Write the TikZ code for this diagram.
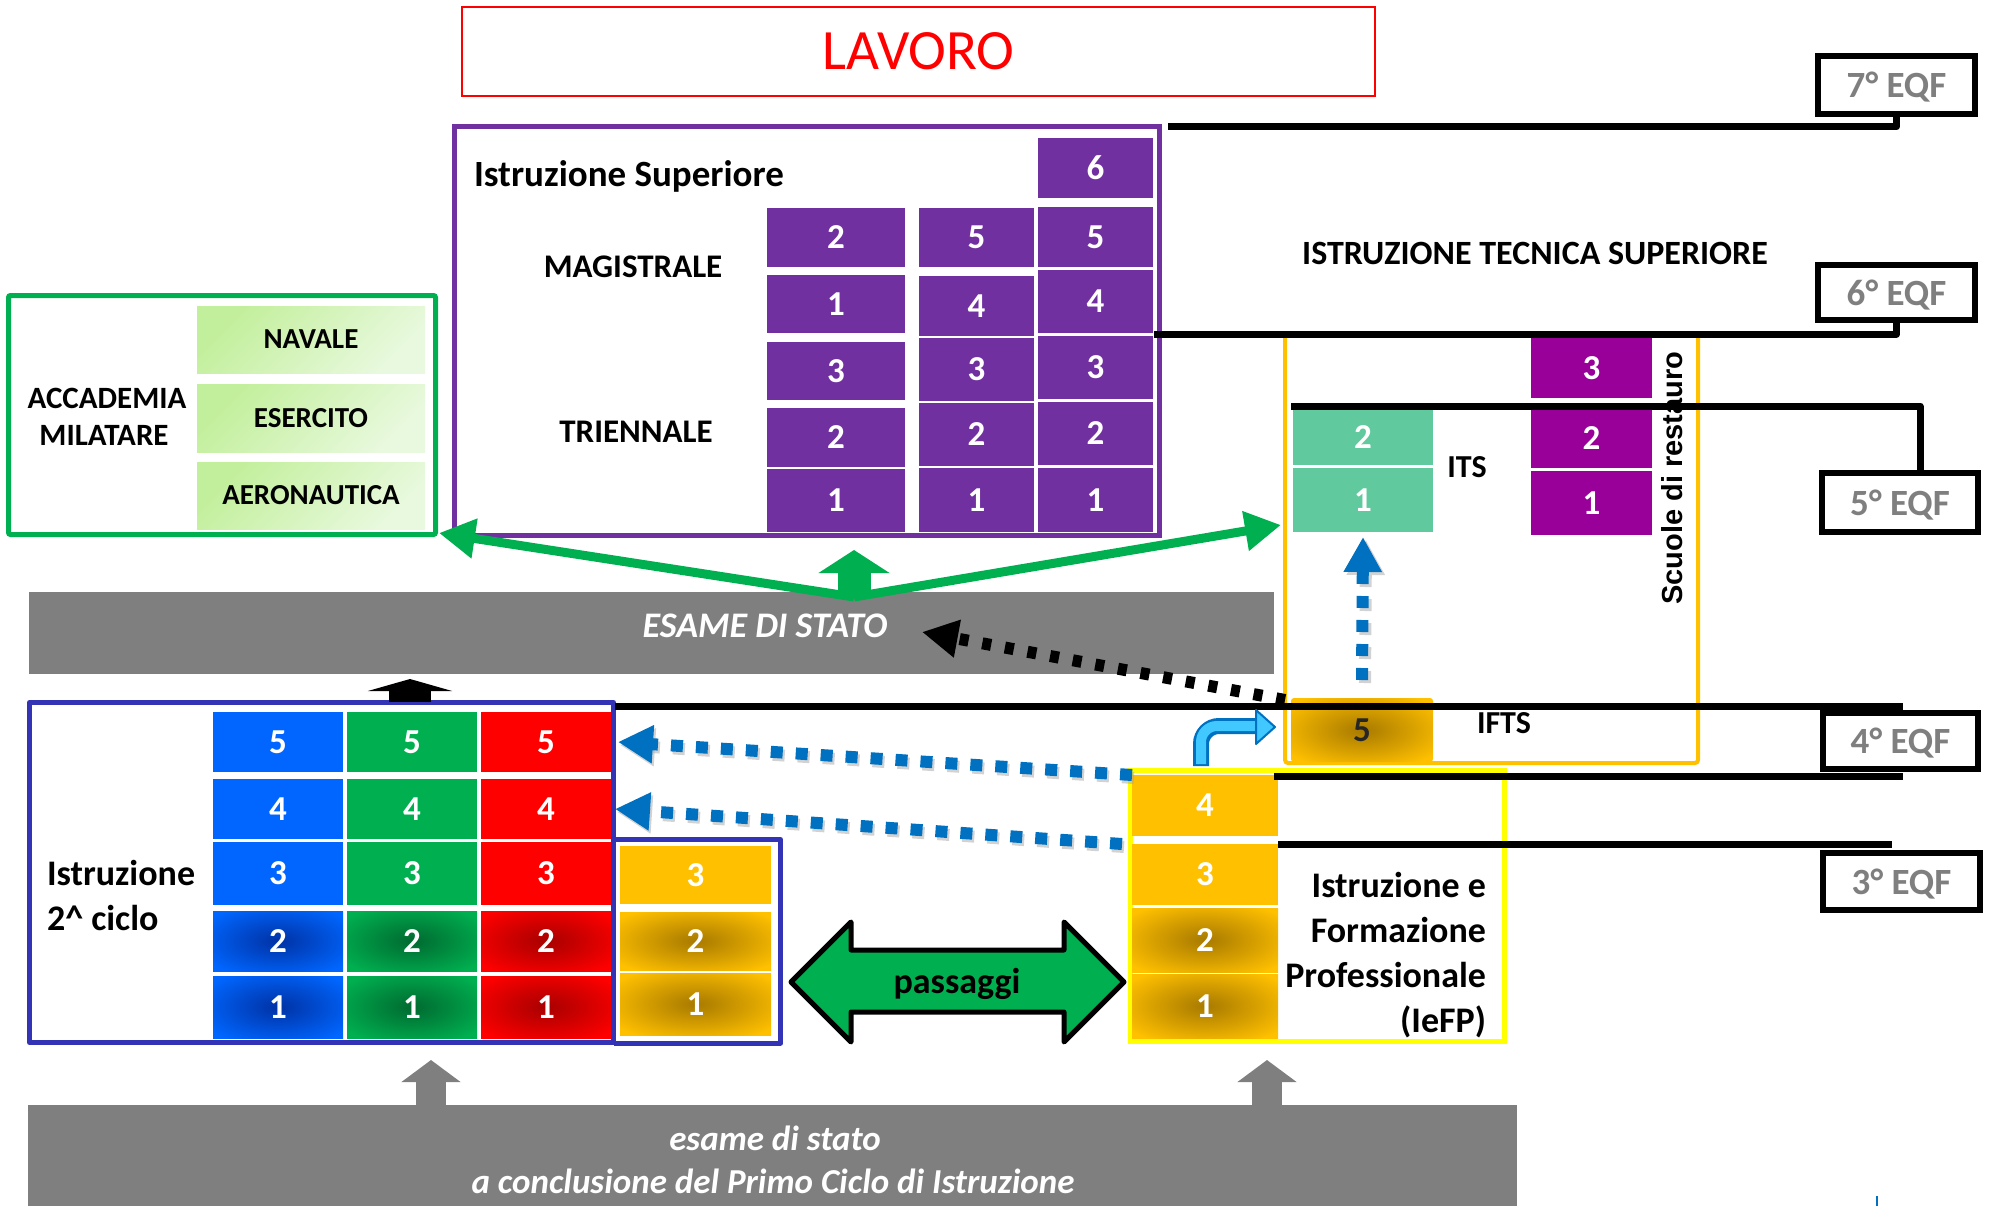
\documentclass[tikz,border=0pt]{standalone}
\usepackage{fontspec}
\setmainfont{Carlito}
\newfontfamily\arialfont{Liberation Sans}
\usetikzlibrary{arrows.meta}
\definecolor{purp}{HTML}{7030A0}
\definecolor{magen}{HTML}{990099}
\definecolor{tealc}{HTML}{60C99D}
\definecolor{orng}{HTML}{FFC000}
\definecolor{goldc}{HTML}{A87A00}
\definecolor{ylw}{HTML}{FFFF00}
\definecolor{navyb}{HTML}{3333B5}
\definecolor{blc}{HTML}{0066FF}
\definecolor{bldark}{HTML}{0032A5}
\definecolor{grc}{HTML}{00B050}
\definecolor{grdark}{HTML}{006A30}
\definecolor{rdc}{HTML}{FF0000}
\definecolor{rddark}{HTML}{A80000}
\definecolor{gry}{HTML}{7F7F7F}
\definecolor{lgA}{HTML}{C2EF9B}
\definecolor{lgB}{HTML}{E9F9DF}
\definecolor{arrblue}{HTML}{0070C0}
\definecolor{cyanA}{HTML}{40C8FF}
\colorlet{blmid}{bldark!60!blc}
\colorlet{grmid}{grdark!60!grc}
\colorlet{rdmid}{rddark!60!rdc}
\colorlet{gdmid}{goldc!60!orng}
\pgfdeclareradialshading{blueglow}{\pgfpoint{0bp}{0bp}}{color(0bp)=(bldark); color(13bp)=(blmid); color(32bp)=(blc); color(50bp)=(blc)}
\pgfdeclareradialshading{greenglow}{\pgfpoint{0bp}{0bp}}{color(0bp)=(grdark); color(13bp)=(grmid); color(32bp)=(grc); color(50bp)=(grc)}
\pgfdeclareradialshading{redglow}{\pgfpoint{0bp}{0bp}}{color(0bp)=(rddark); color(13bp)=(rdmid); color(32bp)=(rdc); color(50bp)=(rdc)}
\pgfdeclareradialshading{goldglow}{\pgfpoint{0bp}{0bp}}{color(0bp)=(goldc); color(13bp)=(gdmid); color(32bp)=(orng); color(50bp)=(orng)}
\newcommand\fsz[1]{\fontsize{#1pt}{#1pt}\selectfont}
\newcommand\cellnode[7]{%
  \pgfmathsetmacro\cellX{(#2+#4)/2}%
  \pgfmathsetmacro\cellY{(#3+#5)/2}%
  \pgfmathsetmacro\cellW{#4-#2}%
  \pgfmathsetmacro\cellH{#5-#3}%
  \node[cellbox,#6,minimum width=\cellW pt,minimum height=\cellH pt] (#1) at (\cellX,\cellY) {#7};%
}
\begin{document}
\begin{tikzpicture}[x=1pt,y=-1pt,
  cellbox/.style={inner sep=0pt,outer sep=0pt,draw=none,text=white,font=\bfseries\fsz{35}},
  pcell/.style={fill=purp},
  mcell/.style={fill=magen},
  tcell/.style={fill=tealc},
  ocell/.style={fill=orng},
  ogcell/.style={shade,shading=goldglow},
  bcell/.style={fill=blc}, bgcell/.style={shade,shading=blueglow},
  gcell/.style={fill=grc}, ggcell/.style={shade,shading=greenglow},
  rcell/.style={fill=rdc}, rgcell/.style={shade,shading=redglow},
  acell/.style={top color=lgA,bottom color=lgB,shading angle=45,text=black,font=\bfseries\fsz{29}},
  lbl/.style={inner sep=0pt,outer sep=0pt,font=\bfseries\fsz{36}},
  eqfbox/.style={draw=black,line width=6pt,fill=white,inner sep=0pt,text=gry,font=\bfseries\fsz{37},text depth=0pt},
  levelline/.style={line width=7pt,line join=round},
  bluedots/.style={arrblue,line width=12pt,dash pattern=on 12pt off 13pt,-{Triangle[length=35pt,width=36pt]}},
  dotshadow/.style={black!35,opacity=0.5,line width=12pt,dash pattern=on 12pt off 13pt,-{Triangle[length=35pt,width=36pt]}},
  greenarr/.style={grc,line width=9pt,-{Triangle[length=36pt,width=38pt]}},
]
\useasboundingbox (0,0) rectangle (1993,1206);

% LAVORO
\node[draw=rdc,line width=2pt,minimum width=913pt,minimum height=89pt,inner sep=0pt,text=rdc,font=\fsz{57}] (lavoro) at (918.5,51.5) {LAVORO};

% Istruzione Superiore
\draw[purp,line width=5pt] (454.5,126.5) rectangle (1159.5,535.5);
\cellnode{s11}{767}{469}{905}{532}{pcell}{1}
\cellnode{s12}{767}{408}{905}{467}{pcell}{2}
\cellnode{s13}{767}{342}{905}{400}{pcell}{3}
\cellnode{s14}{767}{275}{905}{333}{pcell}{1}
\cellnode{s15}{767}{208}{905}{267}{pcell}{2}
\cellnode{s21}{919}{468}{1034}{532}{pcell}{1}
\cellnode{s22}{919}{403}{1034}{466}{pcell}{2}
\cellnode{s23}{919}{338}{1034}{401}{pcell}{3}
\cellnode{s24}{919}{276}{1034}{336}{pcell}{4}
\cellnode{s25}{919}{208}{1034}{267}{pcell}{5}
\cellnode{s31}{1038}{468}{1153}{532}{pcell}{1}
\cellnode{s32}{1038}{402}{1153}{465}{pcell}{2}
\cellnode{s33}{1038}{336}{1153}{399}{pcell}{3}
\cellnode{s34}{1038}{270}{1153}{333}{pcell}{4}
\cellnode{s35}{1038}{207}{1153}{267}{pcell}{5}
\cellnode{s36}{1038}{138}{1153}{198}{pcell}{6}
\node[lbl,anchor=base west,font=\bfseries\fsz{37}] (issup) at (474,187) {Istruzione Superiore};
\node[lbl,anchor=base,font=\bfseries\fsz{33}] (magi) at (633,277) {MAGISTRALE};
\node[lbl,anchor=base,font=\bfseries\fsz{33}] (trien) at (636,442) {TRIENNALE};

% Accademia militare
\draw[grc,line width=5pt,rounded corners=2pt] (8.5,295.5) rectangle (435.5,534.5);
\cellnode{nav}{197}{306}{425}{373}{acell}{NAVALE}
\cellnode{ese}{197}{384}{425}{452}{acell}{ESERCITO}
\cellnode{aer}{197}{462}{425}{529}{acell}{AERONAUTICA}
\node[lbl,anchor=base,font=\bfseries\fsz{31}] (acc1) at (107,408) {ACCADEMIA};
\node[lbl,anchor=base,font=\bfseries\fsz{31}] (acc2) at (104,445) {MILATARE};

% ESAME DI STATO
\node[fill=gry,inner sep=0pt,minimum width=1245pt,minimum height=82pt] (esamebar) at (651.5,633) {};
\node[lbl,anchor=base,text=white,font=\bfseries\itshape\fsz{36}] (esametxt) at (765,637) {ESAME DI STATO};

% green arrows
\coordinate (gapex) at (854,597);
\coordinate (gleft) at (439,533);
\coordinate (gright) at (1281,525);
\draw[greenarr] (gapex) -- (gleft);
\draw[greenarr] (gapex) -- (gright);
\coordinate (gup) at (854,550);
\draw[grc,line width=33pt,-{Triangle[length=23pt,width=70pt]}] ([yshift=-1pt]gapex) -- (gup);

% Istruzione tecnica superiore
\node[lbl,anchor=base,font=\bfseries\fsz{34}] (itslabel) at (1535,265) {ISTRUZIONE TECNICA SUPERIORE};
\draw[orng,line width=4pt,rounded corners=3pt] (1285,334) rectangle (1698,763);
\cellnode{its2}{1293}{410}{1433}{465}{tcell}{2}
\cellnode{its1}{1293}{468}{1433}{532}{tcell}{1}
\cellnode{rs3}{1531}{338}{1652}{398}{mcell}{3}
\cellnode{rs2}{1531}{408}{1652}{468}{mcell}{2}
\cellnode{rs1}{1531}{471}{1652}{535}{mcell}{1}
\cellnode{ifts5}{1291}{698}{1433}{762}{ogcell,text=black!85,rounded corners=3pt}{5}
\node[lbl,anchor=base,font=\bfseries\fsz{32}] (its) at (1467,477) {ITS};
\node[lbl,anchor=base,font=\bfseries\fsz{32}] (ifts) at (1504,733) {IFTS};
\node[inner sep=0pt,rotate=90,font=\arialfont\bfseries\fsz{29}] (scuole) at (1672,478) {Scuole di restauro};

% IeFP
\draw[ylw,line width=5pt] (1130.5,770.5) rectangle (1504.5,1041.5);
\cellnode{fp4}{1132}{775}{1278}{836}{ocell}{4}
\cellnode{fp3}{1132}{844}{1278}{905}{ocell}{3}
\cellnode{fp2}{1132}{908}{1278}{972}{ogcell}{2}
\cellnode{fp1}{1132}{974}{1278}{1038}{ogcell}{1}
\node[lbl,anchor=base east] (ief1) at (1486,897) {Istruzione e};
\node[lbl,anchor=base east] (ief2) at (1486,942) {Formazione};
\node[lbl,anchor=base east] (ief3) at (1486,987) {Professionale};
\node[lbl,anchor=base east] (ief4) at (1486,1032) {(IeFP)};

% Istruzione 2^ ciclo
\draw[navyb,line width=5pt,line join=round] (29.5,702.5) rectangle (613.5,1042.5);
\draw[navyb,line width=5pt,line join=round] (613.5,839.5) -- (780.5,839.5) -- (780.5,1043) -- (613.5,1043);
\cellnode{bl5}{213}{712}{343}{772}{bcell}{5}
\cellnode{bl4}{213}{779}{343}{839}{bcell}{4}
\cellnode{bl3}{213}{842}{343}{905}{bcell}{3}
\cellnode{bl2}{213}{911}{343}{971}{bgcell}{2}
\cellnode{bl1}{213}{976}{343}{1038}{bgcell}{1}
\cellnode{gn5}{347}{712}{477}{772}{gcell}{5}
\cellnode{gn4}{347}{779}{477}{839}{gcell}{4}
\cellnode{gn3}{347}{842}{477}{905}{gcell}{3}
\cellnode{gn2}{347}{911}{477}{971}{ggcell}{2}
\cellnode{gn1}{347}{976}{477}{1038}{ggcell}{1}
\cellnode{rd5}{481}{712}{611}{772}{rcell}{5}
\cellnode{rd4}{481}{779}{611}{839}{rcell}{4}
\cellnode{rd3}{481}{842}{611}{905}{rcell}{3}
\cellnode{rd2}{481}{911}{611}{971}{rgcell}{2}
\cellnode{rd1}{481}{976}{611}{1038}{rgcell}{1}
\cellnode{yl3}{620}{846}{771}{904}{ocell}{3}
\cellnode{yl2}{620}{912}{771}{970}{ogcell}{2}
\cellnode{yl1}{620}{973}{771}{1035}{ogcell}{1}
\node[lbl,anchor=base west] (cic1) at (47,885) {Istruzione};
\node[lbl,anchor=base west] (cic2) at (47,930) {2\textasciicircum{} ciclo};
\coordinate (blkup) at (410,679);
\draw[black,line width=42pt,-{Triangle[length=12pt,width=84pt]}] (410,702) -- (blkup);

% primo ciclo bar
\node[fill=gry,inner sep=0pt,minimum width=1489pt,minimum height=101pt] (primobar) at (772.5,1155.5) {};
\node[lbl,anchor=base,text=white,font=\bfseries\itshape\fsz{35}] (pc1) at (775,1150) {esame di stato};
\node[lbl,anchor=base,text=white,font=\bfseries\itshape\fsz{35}] (pc2) at (773,1193) {a conclusione del Primo Ciclo di Istruzione};
\coordinate (gu1) at (431,1060);
\coordinate (gu2) at (1267,1060);
\draw[gry,line width=30pt,-{Triangle[length=22pt,width=58pt]}] (gu1 |- primobar.north) -- (gu1);
\draw[gry,line width=30pt,-{Triangle[length=22pt,width=58pt]}] (gu2 |- primobar.north) -- (gu2);

% passaggi
\draw[fill=grc,line width=5pt,line join=round] (791,982) -- (851,922) -- (851,950) -- (1064,950) -- (1064,922) -- (1124,982) -- (1064,1042) -- (1064,1012) -- (851,1012) -- (851,1042) -- cycle;
\node[lbl,anchor=base] (pass) at (957,993) {passaggi};

% EQF boxes
\node[eqfbox,minimum width=157pt,minimum height=58pt] (eqf7) at (1896.5,85) {7° EQF};
\node[eqfbox,minimum width=157pt,minimum height=55pt] (eqf6) at (1896.5,292.5) {6° EQF};
\node[eqfbox,minimum width=156pt,minimum height=59pt] (eqf5) at (1900,502.5) {5° EQF};
\node[eqfbox,minimum width=155pt,minimum height=56pt] (eqf4) at (1900.5,741) {4° EQF};
\node[eqfbox,minimum width=157pt,minimum height=57pt] (eqf3) at (1901.5,881.5) {3° EQF};

% level lines
\draw[levelline] (1168,127) -| (eqf7.south);
\draw[levelline] (1154,334) -| (eqf6.south);
\coordinate (l5end) at (1920,406);
\draw[levelline] (1291,406) -- (l5end) -- (l5end |- eqf5.north);
\draw[levelline] (615,706) -- (1903,706);
\draw[levelline] (1274,776) -- (1903,776);
\draw[levelline] (1278,844) -- (1892,844);

% dotted arrows
\draw[dotshadow] ([shift={(2,3)}]fp4.north west) -- ([shift={(9,3)}]rd5.east);
\draw[dotshadow] ([shift={(-8,3)}]fp3.north west) -- ([shift={(6,3)}]rd4.east);
\draw[bluedots] (fp4.north west) -- ([xshift=7pt]rd5.east);
\draw[bluedots] ([xshift=-10pt]fp3.north west) -- ([xshift=4pt]rd4.east);
\coordinate (esametip) at (922,632);
\draw[black,line width=12pt,dash pattern=on 9pt off 14pt,-{Triangle[length=36pt,width=36pt]}] ([shift={(-6,2)}]ifts5.north west) -- (esametip);
\draw[dotshadow,dash pattern=on 12pt off 12pt] ([shift={(3,3)}]ifts5.north) ++(0,-18) -- ([shift={(3,8)}]its1.south);
\draw[bluedots,dash pattern=on 12pt off 12pt] ([yshift=18pt]ifts5.north) -- ([yshift=-5pt]its1.south);

% bent arrow
\coordinate (bendS) at (1201,766);
\coordinate (bendE) at (1259,726);
\draw[arrblue,line width=16pt,rounded corners=18pt] (bendS) |- (bendE);
\draw[cyanA,line width=10pt,rounded corners=16pt] ([yshift=2pt]bendS) |- ([xshift=-1pt]bendE);
\fill[cyanA,draw=arrblue,line width=2pt,line join=round] (1256,710) -- (1275,727) -- (1256,744) -- cycle;

\draw[arrblue,line width=2pt] (1877,1196) -- (1877,1206);
\end{tikzpicture}
\end{document}
